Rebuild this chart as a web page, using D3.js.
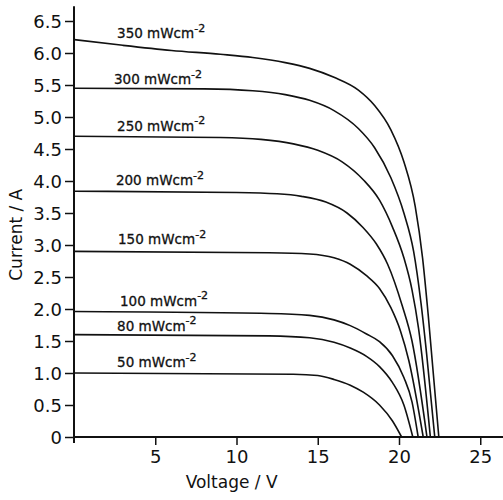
<!DOCTYPE html>
<html>
<head>
<meta charset="utf-8">
<script src="https://cdn.jsdelivr.net/npm/d3@7"></script>
<style>
  body { margin: 0; background: #fff; }
  svg { display: block; }
  .tick text { font-family: "DejaVu Sans", sans-serif; font-size: 18px; fill: #111; }
  .tick line { stroke: #111; stroke-width: 1.5; }
  .lbl { font-family: "DejaVu Sans", sans-serif; font-size: 13.5px; fill: #111; stroke: #111; stroke-width: 0.3; }
  .title { font-family: "DejaVu Sans", sans-serif; font-size: 17px; fill: #111; }
</style>
</head>
<body>
<div id="chart"></div>
<script>
var width = 503,
	height = 500;

// irradiance of each curve, mW cm^-2
var levels = [350, 300, 250, 200, 150, 100, 80, 50];

// [voltage V, current A]
var curve350 = [[0,6.21],[3,6.12],[6,6.04],[9,5.98],[11,5.93],[13,5.85],[14.5,5.76],[16,5.62],[17.5,5.42],[18.5,5.18],[19.5,4.8],[20.3,4.3],[21,3.6],[21.45,2.8],[21.8,1.9],[22.45,0]];
var curve300 = [[0,5.45],[8,5.44],[11,5.41],[13,5.35],[14.5,5.26],[16,5.1],[17.5,4.82],[18.5,4.52],[19.5,4.05],[20.3,3.5],[20.9,2.9],[21.35,2.1],[21.7,1.3],[22.2,0]];
var curve250 = [[0,4.70],[9,4.68],[11.5,4.65],[13.5,4.58],[15,4.48],[16.5,4.3],[17.8,4.02],[18.8,3.7],[19.6,3.28],[20.3,2.8],[20.8,2.3],[21.2,1.7],[21.93,0]];
var curve200 = [[0,3.84],[10,3.82],[12.5,3.8],[14,3.76],[15.5,3.67],[16.8,3.5],[17.8,3.27],[18.6,3.02],[19.3,2.7],[20.2,2.05],[20.8,1.5],[21.72,0]];
var curve150 = [[0,2.90],[12,2.88],[14.5,2.86],[16,2.8],[17,2.7],[18,2.52],[18.8,2.32],[19.5,2.02],[20.1,1.65],[20.6,1.2],[21.49,0]];
var curve100 = [[0,1.96],[12,1.93],[14.5,1.9],[16,1.83],[17,1.74],[18,1.61],[18.8,1.49],[19.6,1.27],[20.3,0.93],[20.8,0.55],[21.18,0]];
var curve80 = [[0,1.60],[12,1.58],[14.5,1.55],[16,1.48],[17,1.39],[18,1.26],[18.8,1.1],[19.6,0.85],[20.3,0.5],[20.85,0]];
var curve50 = [[0,1.0],[13.5,0.98],[15,0.96],[16,0.9],[17,0.81],[17.8,0.7],[18.8,0.5],[19.6,0.25],[20.16,0]];
var curves = [curve350, curve300, curve250, curve200, curve150, curve100, curve80, curve50];

// where each label starts, in data units [V, A]
var labelPos = [[2.65,6.23],[2.46,5.51],[2.65,4.78],[2.58,3.93],[2.71,3.01],[2.83,2.05],[2.65,1.66],[2.65,1.09]];

var xTicks = [5, 10, 15, 20, 25],
	yTicks = d3.range(0, 6.51, 0.5);

var svg = d3.select("#chart").append("svg")
	.attr("width", width)
	.attr("height", height);

var x = d3.scaleLinear().domain([0, 26.4]).range([74, 503]);
var y = d3.scaleLinear().domain([0, 6.5]).range([437, 21]);

// axes
var xAxis = svg.append("g")
	.attr("transform", "translate(0," + y(0) + ")")
	.call(d3.axisBottom(x).tickValues(xTicks).tickSize(8).tickPadding(5).tickFormat(d3.format("d")));
xAxis.select(".domain").remove();

var yAxis = svg.append("g")
	.attr("transform", "translate(" + x(0) + ",0)")
	.call(d3.axisLeft(y).tickValues(yTicks).tickSize(9).tickPadding(3)
		.tickFormat(function(d) { return d === 0 ? "0" : d3.format(".1f")(d); }));
yAxis.select(".domain").remove();
yAxis.selectAll(".tick text").attr("dy", "0.35em");

svg.append("line")
	.attr("x1", x(0)).attr("x2", width)
	.attr("y1", y(0)).attr("y2", y(0))
	.attr("stroke", "#111").attr("stroke-width", 2);
svg.append("line")
	.attr("x1", x(0)).attr("x2", x(0))
	.attr("y1", y(0) + 6).attr("y2", y(6.73))
	.attr("stroke", "#111").attr("stroke-width", 2);

// curves
var line = d3.line()
	.x(function(d) { return x(d[0]); })
	.y(function(d) { return y(d[1]); })
	.curve(d3.curveMonotoneX);

svg.selectAll(".iv")
	.data(curves)
	.enter().append("path")
	.attr("class", "iv")
	.attr("d", line)
	.attr("fill", "none")
	.attr("stroke", "#111")
	.attr("stroke-width", 1.6);

// labels
var labels = svg.selectAll(".lbl")
	.data(levels)
	.enter().append("text")
	.attr("class", "lbl")
	.attr("x", function(d, i) { return x(labelPos[i][0]); })
	.attr("y", function(d, i) { return y(labelPos[i][1]); });
labels.append("tspan").text(function(d) { return d + " mWcm"; });
labels.append("tspan")
	.attr("dy", "-0.6em")
	.style("font-size", "11px")
	.text("-2");

// axis titles
svg.append("text")
	.attr("class", "title")
	.attr("x", x(9.7))
	.attr("y", 488)
	.attr("text-anchor", "middle")
	.text("Voltage / V");

svg.append("text")
	.attr("class", "title")
	.attr("transform", "translate(22," + y(3.16) + ") rotate(-90)")
	.attr("text-anchor", "middle")
	.text("Current / A");
</script>
</body>
</html>
